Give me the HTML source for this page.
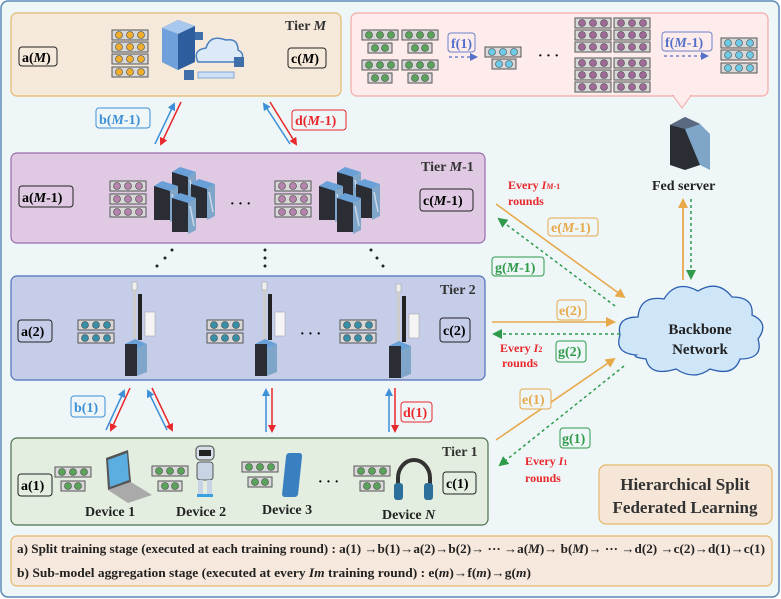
<!DOCTYPE html>
<html><head><meta charset="utf-8"><style>
html,body{margin:0;padding:0;background:#fff}
svg{display:block}
text{font-family:"Liberation Serif",serif;font-weight:bold}
</style></head><body>
<svg width="781" height="599" viewBox="0 0 781 599" xmlns="http://www.w3.org/2000/svg">
<defs>
<g id="b3"><rect x="0" y="0" width="36" height="10" fill="#d8d8d8" stroke="#555" stroke-width="1"/><circle cx="7" cy="5" r="3.5" fill="currentColor" stroke="#444" stroke-width=".6"/><circle cx="18" cy="5" r="3.5" fill="currentColor" stroke="#444" stroke-width=".6"/><circle cx="29" cy="5" r="3.5" fill="currentColor" stroke="#444" stroke-width=".6"/></g>
<g id="b2"><rect x="0" y="0" width="24" height="10" fill="#d8d8d8" stroke="#555" stroke-width="1"/><circle cx="7" cy="5" r="3.5" fill="currentColor" stroke="#444" stroke-width=".6"/><circle cx="17" cy="5" r="3.5" fill="currentColor" stroke="#444" stroke-width=".6"/></g>
<g id="rack"><rect x="0" y="6" width="16" height="34" fill="#2a2d33"/><polygon points="0,6 8,1 24,6 16,11" fill="#6aa0d8"/><polygon points="16,11 24,6 24,38 16,42" fill="#7fa6c8"/><line x1="18" y1="14" x2="22" y2="34" stroke="#c9d8e8" stroke-width="1.5"/></g>
<g id="tower"><rect x="-1" y="0" width="5" height="8" fill="#eee" stroke="#999" stroke-width=".5"/><rect x="0" y="8" width="3" height="50" fill="#ccc"/><rect x="5" y="12" width="4" height="46" fill="#222"/><rect x="12" y="30" width="10" height="24" fill="#f4f4f4" stroke="#aaa" stroke-width=".6"/><polygon points="-8,62 2,57 14,62 4,67" fill="#6aa0d8"/><rect x="-8" y="62" width="12" height="32" fill="#2a2d33"/><polygon points="4,67 14,62 14,90 4,94" fill="#7fa6c8"/></g>
<marker id="ab" markerWidth="8" markerHeight="8" refX="6" refY="4" orient="auto" markerUnits="userSpaceOnUse"><path d="M0,0 L8,4 L0,8 z" fill="#3d8fd6"/></marker>
<marker id="ar" markerWidth="8" markerHeight="8" refX="6" refY="4" orient="auto" markerUnits="userSpaceOnUse"><path d="M0,0 L8,4 L0,8 z" fill="#e8282b"/></marker>
<marker id="ao" markerWidth="10" markerHeight="10" refX="8" refY="5" orient="auto" markerUnits="userSpaceOnUse"><path d="M0,0 L10,5 L0,10 z" fill="#e7a94a"/></marker>
<marker id="ag" markerWidth="10" markerHeight="10" refX="8" refY="5" orient="auto" markerUnits="userSpaceOnUse"><path d="M0,0 L10,5 L0,10 z" fill="#2f9a4a"/></marker>
<marker id="af" markerWidth="8" markerHeight="8" refX="6" refY="4" orient="auto" markerUnits="userSpaceOnUse"><path d="M0,0 L8,4 L0,8 z" fill="#5570c8"/></marker>
</defs>
<rect x="1" y="1" width="778" height="596" rx="7" fill="#eef6f8" stroke="#5b8ab5" stroke-width="1.5"/>

<!-- Tier M -->
<rect x="11" y="13" width="330" height="83" rx="6" fill="#f5e9dc" stroke="#e4b86a" stroke-width="1.2"/>
<text x="285" y="30" font-size="14" fill="#333">Tier <tspan font-style="italic">M</tspan></text>
<rect x="19" y="47" width="38" height="19" rx="3" fill="none" stroke="#222"/><text x="22" y="62" font-size="14">a(<tspan font-style="italic">M</tspan>)</text>
<rect x="288" y="48" width="38" height="20" rx="3" fill="none" stroke="#222"/><text x="291" y="63" font-size="14">c(<tspan font-style="italic">M</tspan>)</text>
<g color="#f0ae2e"><use href="#b3" x="112" y="30"/><use href="#b3" x="112" y="42"/><use href="#b3" x="112" y="54"/><use href="#b3" x="112" y="67"/></g>
<g>
<polygon points="162,28 178,20 195,26 195,62 178,70 162,62" fill="#2d5d9c"/><polygon points="162,28 178,34 178,70 162,62" fill="#6fa0da"/><polygon points="162,28 178,20 195,26 178,34" fill="#a8c8ee"/>
<path d="M198,62 q-6,-12 8,-14 q4,-14 20,-8 q12,-2 12,10 q8,4 2,12 z" fill="#dce9f7" stroke="#4a7fc0" stroke-width="1.5"/>
<rect x="198" y="72" width="36" height="6" fill="#cfe0f4" stroke="#6b9ad0" stroke-width=".8"/>
<rect x="184" y="70" width="10" height="10" fill="#3f6ea8"/><rect x="234" y="57" width="10" height="10" fill="#3f6ea8"/><rect x="195" y="32" width="8" height="8" fill="#3f6ea8"/>
</g>

<!-- Pink box -->
<rect x="351" y="13" width="417" height="83" rx="6" fill="#fdeceb" stroke="#f4a9a6" stroke-width="1.2"/>
<polygon points="673,95.5 691,95.5 682,108" fill="#fdeceb" stroke="#f4a9a6"/><line x1="674" y1="95.5" x2="690" y2="95.5" stroke="#fdeceb" stroke-width="2"/>
<g color="#5aa35a"><use href="#b3" x="362" y="30"/><use href="#b2" x="368" y="43"/><use href="#b3" x="402" y="30"/><use href="#b2" x="408" y="43"/><use href="#b3" x="362" y="60"/><use href="#b2" x="368" y="73"/><use href="#b3" x="402" y="60"/><use href="#b2" x="408" y="73"/></g>
<rect x="448" y="33" width="27" height="19" rx="3" fill="none" stroke="#6a7fc8"/><text x="451" y="48" font-size="14" fill="#5570c8">f(1)</text>
<line x1="449" y1="57" x2="476" y2="57" stroke="#5570c8" stroke-width="1.3" stroke-dasharray="3,3" marker-end="url(#af)"/>
<g color="#6ecbe8"><use href="#b3" x="485" y="47"/><use href="#b2" x="492" y="59"/></g>
<text x="538" y="60" font-size="14">· · ·</text>
<g color="#a06a98"><use href="#b3" x="575" y="18"/><use href="#b3" x="575" y="30"/><use href="#b3" x="575" y="42"/><use href="#b3" x="614" y="18"/><use href="#b3" x="614" y="30"/><use href="#b3" x="614" y="42"/><use href="#b3" x="575" y="58"/><use href="#b3" x="575" y="70"/><use href="#b3" x="575" y="82"/><use href="#b3" x="614" y="58"/><use href="#b3" x="614" y="70"/><use href="#b3" x="614" y="82"/></g>
<rect x="662" y="32" width="50" height="19" rx="3" fill="none" stroke="#6a7fc8"/><text x="665" y="47" font-size="14" fill="#5570c8">f(<tspan font-style="italic">M</tspan>-1)</text>
<line x1="664" y1="56" x2="707" y2="56" stroke="#5570c8" stroke-width="1.3" stroke-dasharray="3,3" marker-end="url(#af)"/>
<g color="#6ecbe8"><use href="#b3" x="721" y="38"/><use href="#b3" x="721" y="50"/><use href="#b3" x="721" y="63"/></g>

<!-- arrows M / M-1 -->
<rect x="96" y="108" width="54" height="20" rx="3" fill="none" stroke="#3d8fd6"/><text x="99" y="124" font-size="14" fill="#3d8fd6">b(<tspan font-style="italic">M</tspan>-1)</text>
<line x1="155" y1="144" x2="174" y2="104" stroke="#3d8fd6" stroke-width="1.5" marker-end="url(#ab)"/>
<line x1="181" y1="102" x2="161" y2="144" stroke="#e8282b" stroke-width="1.5" marker-end="url(#ar)"/>
<line x1="290" y1="144" x2="264" y2="104" stroke="#3d8fd6" stroke-width="1.5" marker-end="url(#ab)"/>
<line x1="270" y1="102" x2="296" y2="144" stroke="#e8282b" stroke-width="1.5" marker-end="url(#ar)"/>
<rect x="292" y="110" width="54" height="20" rx="3" fill="none" stroke="#e8282b"/><text x="295" y="125" font-size="14" fill="#e8282b">d(<tspan font-style="italic">M</tspan>-1)</text>

<!-- Tier M-1 -->
<rect x="11" y="153" width="474" height="90" rx="6" fill="#dfc9e3" stroke="#9a6bb0" stroke-width="1.2"/>
<text x="421" y="171" font-size="14" fill="#333">Tier <tspan font-style="italic">M</tspan>-1</text>
<rect x="19" y="186" width="54" height="21" rx="3" fill="none" stroke="#222"/><text x="22" y="202" font-size="14">a(<tspan font-style="italic">M</tspan>-1)</text>
<rect x="420" y="189" width="53" height="22" rx="3" fill="none" stroke="#222"/><text x="423" y="205" font-size="14">c(<tspan font-style="italic">M</tspan>-1)</text>
<g color="#b583ad"><use href="#b3" x="110" y="181"/><use href="#b3" x="110" y="194"/><use href="#b3" x="110" y="207"/><use href="#b3" x="275" y="181"/><use href="#b3" x="275" y="194"/><use href="#b3" x="275" y="207"/></g>
<use href="#rack" x="172" y="166"/><use href="#rack" x="154" y="180"/><use href="#rack" x="191" y="178"/><use href="#rack" x="172" y="192"/>
<use href="#rack" x="337" y="166"/><use href="#rack" x="319" y="180"/><use href="#rack" x="356" y="178"/><use href="#rack" x="337" y="192"/>
<text x="230" y="208" font-size="14">· · ·</text>

<!-- dots -->
<g fill="#222"><circle cx="157" cy="266" r="1.5"/><circle cx="165" cy="258" r="1.5"/><circle cx="172" cy="250" r="1.5"/>
<circle cx="265" cy="250" r="1.5"/><circle cx="265" cy="258" r="1.5"/><circle cx="265" cy="266" r="1.5"/>
<circle cx="371" cy="250" r="1.5"/><circle cx="377" cy="258" r="1.5"/><circle cx="383" cy="266" r="1.5"/></g>

<!-- Tier 2 -->
<rect x="11" y="276" width="474" height="104" rx="6" fill="#c5cde9" stroke="#4f6fb8" stroke-width="1.2"/>
<text x="440" y="294" font-size="14" fill="#333">Tier 2</text>
<rect x="18" y="320" width="34" height="22" rx="3" fill="none" stroke="#222"/><text x="21" y="336" font-size="14">a(2)</text>
<rect x="440" y="318" width="30" height="24" rx="3" fill="none" stroke="#222"/><text x="443" y="335" font-size="14">c(2)</text>
<g color="#3a8fa8"><use href="#b3" x="78" y="320"/><use href="#b3" x="78" y="333"/><use href="#b3" x="207" y="320"/><use href="#b3" x="207" y="333"/><use href="#b3" x="340" y="320"/><use href="#b3" x="340" y="333"/></g>
<use href="#tower" x="133" y="282"/><use href="#tower" x="263" y="282"/><use href="#tower" x="397" y="284"/>
<text x="300" y="338" font-size="14">· · ·</text>

<!-- arrows 2 / 1 -->
<rect x="71" y="396" width="34" height="21" rx="3" fill="none" stroke="#3d8fd6"/><text x="74" y="412" font-size="14" fill="#3d8fd6">b(1)</text>
<line x1="106" y1="430" x2="124" y2="391" stroke="#3d8fd6" stroke-width="1.5" marker-end="url(#ab)"/>
<line x1="130" y1="388" x2="111" y2="430" stroke="#e8282b" stroke-width="1.5" marker-end="url(#ar)"/>
<line x1="167" y1="430" x2="148" y2="391" stroke="#3d8fd6" stroke-width="1.5" marker-end="url(#ab)"/>
<line x1="152" y1="388" x2="172" y2="430" stroke="#e8282b" stroke-width="1.5" marker-end="url(#ar)"/>
<line x1="266" y1="432" x2="266" y2="390" stroke="#3d8fd6" stroke-width="1.5" marker-end="url(#ab)"/>
<line x1="272" y1="388" x2="272" y2="431" stroke="#e8282b" stroke-width="1.5" marker-end="url(#ar)"/>
<line x1="389" y1="432" x2="389" y2="390" stroke="#3d8fd6" stroke-width="1.5" marker-end="url(#ab)"/>
<line x1="395" y1="388" x2="395" y2="431" stroke="#e8282b" stroke-width="1.5" marker-end="url(#ar)"/>
<rect x="401" y="402" width="31" height="20" rx="3" fill="none" stroke="#e8282b"/><text x="403" y="417" font-size="14" fill="#e8282b">d(1)</text>

<!-- Tier 1 -->
<rect x="11" y="438" width="477" height="87" rx="6" fill="#e3eee0" stroke="#4c6f4c" stroke-width="1.2"/>
<text x="442" y="456" font-size="14" fill="#333">Tier 1</text>
<rect x="18" y="474" width="34" height="22" rx="3" fill="none" stroke="#222"/><text x="21" y="490" font-size="14">a(1)</text>
<rect x="443" y="472" width="33" height="22" rx="3" fill="none" stroke="#222"/><text x="446" y="488" font-size="14">c(1)</text>
<g color="#5aa35a">
<use href="#b3" x="55" y="467"/><use href="#b2" x="61" y="481"/>
<use href="#b3" x="152" y="466"/><use href="#b2" x="158" y="481"/>
<use href="#b3" x="242" y="462"/><use href="#b2" x="248" y="477"/>
<use href="#b3" x="354" y="466"/><use href="#b2" x="360" y="481"/>
</g>
<!-- laptop -->
<polygon points="106,458 128,450 131,482 108,490" fill="#555"/><polygon points="108,460 127,453 129,480 110,487" fill="#5aaee0"/><polygon points="108,490 131,482 152,495 128,503" fill="#aaa"/>
<!-- robot -->
<rect x="196" y="446" width="18" height="14" rx="4" fill="#d8dee8" stroke="#444"/><rect x="199" y="450" width="12" height="6" fill="#222"/><rect x="197" y="462" width="16" height="18" rx="3" fill="#c8d4e4" stroke="#555"/><rect x="198" y="480" width="5" height="16" fill="#c8d4e4"/><rect x="207" y="480" width="5" height="16" fill="#c8d4e4"/><rect x="197" y="494" width="16" height="3" fill="#3aa0e0"/>
<!-- phone -->
<rect x="284" y="453" width="16" height="44" rx="3" fill="#3a7fc0" transform="skewX(-6) translate(50,0)"/>
<text x="318" y="486" font-size="14">· · ·</text>
<!-- headphones -->
<path d="M398,492 v-14 a16,18 0 0 1 32,0 v14" fill="none" stroke="#333" stroke-width="4"/><rect x="394" y="483" width="9" height="17" rx="3" fill="#2c6f9a"/><rect x="424" y="483" width="9" height="17" rx="3" fill="#2c6f9a"/>
<g font-size="14" fill="#222"><text x="85" y="516">Device 1</text><text x="176" y="516">Device 2</text><text x="262" y="514">Device 3</text><text x="382" y="519">Device <tspan font-style="italic">N</tspan></text></g>

<!-- Fed server -->
<polygon points="670,125 685,117 700,124 700,165 685,170 670,165" fill="#2a2d33"/><polygon points="685,129 700,124 710,134 710,170 700,165" fill="#7fa6c8"/><polygon points="670,125 685,117 700,124 685,129" fill="#5a6a80"/>
<text x="652" y="190" font-size="14" fill="#222">Fed server</text>
<line x1="683" y1="280" x2="683" y2="200" stroke="#e7a94a" stroke-width="1.8" marker-end="url(#ao)"/>
<line x1="691" y1="199" x2="691" y2="278" stroke="#2f9a4a" stroke-width="1.5" stroke-dasharray="3,3" marker-end="url(#ag)"/>

<!-- Backbone cloud -->
<path d="M636,355 q-22,-2 -16,-20 q-4,-18 18,-18 q2,-22 26,-18 q12,-20 34,-8 q20,-12 34,6 q22,0 20,18 q18,8 6,24 q6,20 -18,20 q-6,18 -30,10 q-16,12 -34,0 q-26,8 -30,-10 q-14,-2 -10,-4 z" fill="#cfe6f8" stroke="#2c5eb0" stroke-width="1.3"/>
<text x="700" y="334" font-size="15" text-anchor="middle" fill="#222">Backbone</text>
<text x="700" y="354" font-size="15" text-anchor="middle" fill="#222">Network</text>

<!-- e/g arrows -->
<text x="508" y="189" font-size="12" fill="#e8282b">Every <tspan font-style="italic">I</tspan><tspan font-size="8" font-style="italic">M</tspan><tspan font-size="8">-1</tspan></text>
<text x="508" y="205" font-size="12" fill="#e8282b">rounds</text>
<line x1="496" y1="204" x2="624" y2="297" stroke="#e7a94a" stroke-width="1.6" marker-end="url(#ao)"/>
<line x1="615" y1="306" x2="499" y2="219" stroke="#2f9a4a" stroke-width="1.5" stroke-dasharray="3,3" marker-end="url(#ag)"/>
<rect x="548" y="218" width="50" height="18" rx="3" fill="#eef6f8" stroke="#e7a94a"/><text x="551" y="232" font-size="14" fill="#e7a94a">e(<tspan font-style="italic">M</tspan>-1)</text>
<rect x="492" y="257" width="52" height="19" rx="3" fill="#eef6f8" stroke="#2f9a4a"/><text x="495" y="272" font-size="14" fill="#2f9a4a">g(<tspan font-style="italic">M</tspan>-1)</text>

<line x1="492" y1="322" x2="614" y2="322" stroke="#e7a94a" stroke-width="1.6" marker-end="url(#ao)"/>
<line x1="620" y1="334" x2="494" y2="334" stroke="#2f9a4a" stroke-width="1.5" stroke-dasharray="3,3" marker-end="url(#ag)"/>
<rect x="557" y="300" width="29" height="20" rx="3" fill="none" stroke="#e7a94a"/><text x="559" y="315" font-size="14" fill="#e7a94a">e(2)</text>
<rect x="556" y="341" width="30" height="21" rx="3" fill="none" stroke="#2f9a4a"/><text x="558" y="356" font-size="14" fill="#2f9a4a">g(2)</text>
<text x="500" y="352" font-size="12" fill="#e8282b">Every <tspan font-style="italic">I</tspan><tspan font-size="8">2</tspan></text>
<text x="502" y="367" font-size="12" fill="#e8282b">rounds</text>

<line x1="496" y1="440" x2="614" y2="359" stroke="#e7a94a" stroke-width="1.6" marker-end="url(#ao)"/>
<line x1="624" y1="366" x2="500" y2="465" stroke="#2f9a4a" stroke-width="1.5" stroke-dasharray="3,3" marker-end="url(#ag)"/>
<rect x="520" y="389" width="31" height="20" rx="3" fill="#eef6f8" stroke="#e7a94a"/><text x="522" y="404" font-size="14" fill="#e7a94a">e(1)</text>
<rect x="560" y="428" width="30" height="20" rx="3" fill="#eef6f8" stroke="#2f9a4a"/><text x="562" y="443" font-size="14" fill="#2f9a4a">g(1)</text>
<text x="525" y="465" font-size="12" fill="#e8282b">Every <tspan font-style="italic">I</tspan><tspan font-size="8">1</tspan></text>
<text x="525" y="482" font-size="12" fill="#e8282b">rounds</text>

<!-- HSFL -->
<rect x="599" y="465" width="173" height="59" rx="7" fill="#f5e6d7" stroke="#e4b86a" stroke-width="1.2"/>
<text x="685" y="490" font-size="17" text-anchor="middle" fill="#333">Hierarchical Split</text>
<text x="685" y="513" font-size="17" text-anchor="middle" fill="#333">Federated Learning</text>

<!-- bottom -->
<rect x="11" y="536" width="761" height="50" rx="6" fill="#f6e8dc" stroke="#e4b86a" stroke-width="1.2"/>
<text x="17" y="553" font-size="13" fill="#222" textLength="748" lengthAdjust="spacingAndGlyphs">a) Split training stage (executed at each training round) : a(1) →b(1)→a(2)→b(2)→ ··· →a(<tspan font-style="italic">M</tspan>)→ b(<tspan font-style="italic">M</tspan>)→ ··· →d(2) →c(2)→d(1)→c(1)</text>
<text x="17" y="577" font-size="13" fill="#222" textLength="514" lengthAdjust="spacingAndGlyphs">b) Sub-model aggregation stage (executed at every <tspan font-style="italic">Im</tspan> training round) : e(<tspan font-style="italic">m</tspan>)→f(<tspan font-style="italic">m</tspan>)→g(<tspan font-style="italic">m</tspan>)</text>
</svg>
</body></html>
